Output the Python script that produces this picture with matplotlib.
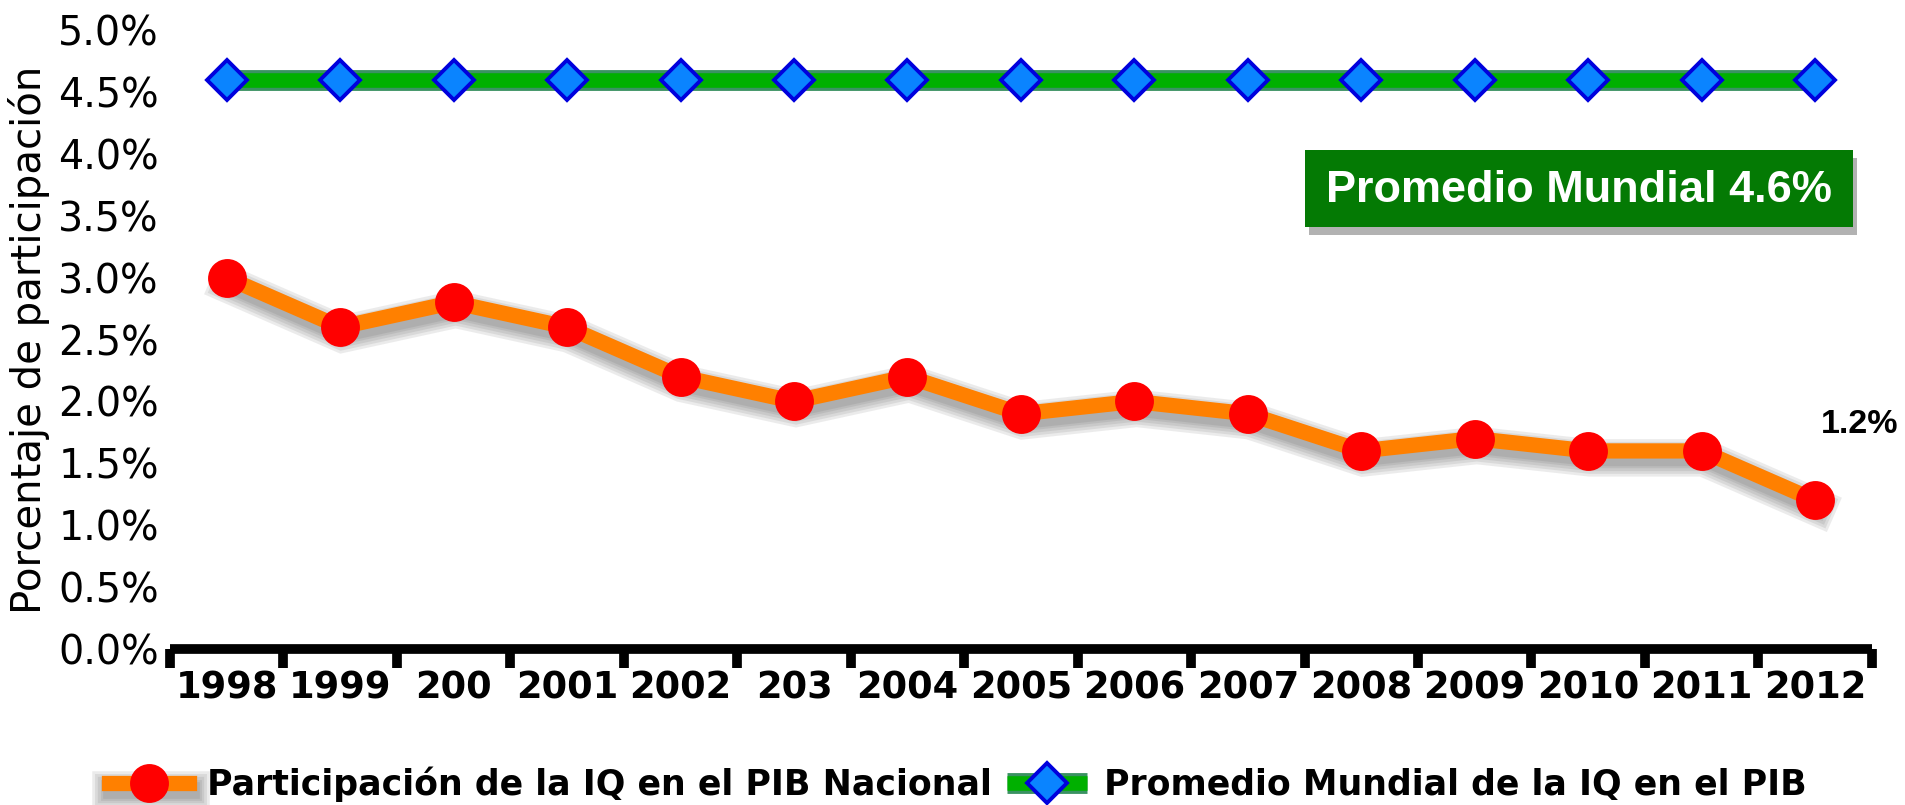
import matplotlib
matplotlib.use("Agg")
import matplotlib.pyplot as plt
import matplotlib.patheffects as pe
from matplotlib.patches import Rectangle
from matplotlib.ticker import FixedLocator, FuncFormatter

years = ["1998", "1999", "200", "2001", "2002", "203", "2004", "2005",
         "2006", "2007", "2008", "2009", "2010", "2011", "2012"]
participacion = [3.0, 2.6, 2.8, 2.6, 2.2, 2.0, 2.2, 1.9, 2.0, 1.9, 1.6, 1.7, 1.6, 1.6, 1.2]
promedio_mundial = [4.6] * 15
yticks = [0.0, 0.5, 1.0, 1.5, 2.0, 2.5, 3.0, 3.5, 4.0, 4.5, 5.0]

label_nac = "Participación de la IQ en el PIB Nacional"
label_mun = "Promedio Mundial de la IQ en el PIB"
box_text = "Promedio Mundial 4.6%"
end_label = "1.2%"

fig = plt.figure(figsize=(19.05, 8.05), dpi=100)
ax = fig.add_axes([0.0892, 0.1938, 0.8934, 0.7689])

x = list(range(len(years)))

# world average line (green with darker halo)
gline, = ax.plot(x, promedio_mundial, color="#00b000", lw=10.5, zorder=3,
                 solid_capstyle="butt",
                 path_effects=[pe.Stroke(linewidth=15, foreground="#3a9262"), pe.Normal()])
gmark, = ax.plot(x, promedio_mundial, ls="none", marker="D", ms=20.5,
                 markerfacecolor="#0a84ff", markeredgecolor="#0000dd", markeredgewidth=2.8,
                 zorder=4)

# national line (orange with soft shadow)
shadow = [pe.SimpleLineShadow(offset=(1.5, -5), shadow_color="#444444", alpha=0.10, linewidth=w)
          for w in (27, 23, 19, 15, 12)] + [pe.Normal()]
oline, = ax.plot(x, participacion, color="#ff8000", lw=11, zorder=3,
                 solid_joinstyle="miter", path_effects=shadow)
omark, = ax.plot(x, participacion, ls="none", marker="o", ms=28,
                 markerfacecolor="#ff0000", markeredgecolor="#ff0000", markeredgewidth=0,
                 zorder=4)

ax.set_xlim(-0.5, len(years) - 0.5)
ax.set_ylim(0, 5.0)

# axes styling
for s in ("top", "right", "left"):
    ax.spines[s].set_visible(False)
ax.spines["bottom"].set_linewidth(7)
ax.spines["bottom"].set_capstyle("butt")

ax.xaxis.set_major_locator(FixedLocator([i - 0.5 for i in range(len(years) + 1)]))
ax.xaxis.set_major_formatter(FuncFormatter(lambda v, p: ""))
ax.set_xticks(x, minor=True)
ax.set_xticklabels(years, minor=True, fontsize=26.5, fontweight="bold")
ax.tick_params(axis="x", which="major", length=14, width=7, direction="out", color="black")
ax.tick_params(axis="x", which="minor", length=0, pad=15)

ax.set_yticks(yticks)
ax.set_yticklabels([f"{v:.1f}%" for v in yticks], fontsize=28.5)
ax.tick_params(axis="y", length=0, pad=8)
ax.set_ylabel("Porcentaje de participación", fontsize=29, labelpad=6)

# green box annotation
rect = Rectangle((0.667, 0.682), 0.322, 0.124, transform=ax.transAxes,
                 facecolor="#047a04", edgecolor="none", zorder=5,
                 path_effects=[pe.SimplePatchShadow(offset=(3, -6), shadow_rgbFace="gray", alpha=0.6),
                               pe.Normal()])
ax.add_patch(rect)
ax.text(0.667 + 0.161, 0.682 + 0.059, box_text, transform=ax.transAxes,
        ha="center", va="center", color="white", fontsize=32.5, fontweight="bold",
        family="Liberation Sans", zorder=6)

# end value label
ax.annotate(end_label, xy=(x[-1], participacion[-1]), xytext=(32, 55),
            textcoords="offset points", ha="center", va="center",
            fontsize=24.5, fontweight="bold", family="Liberation Sans")

leg = fig.legend([(oline, omark), (gline, gmark)], [label_nac, label_mun],
                 loc="center", bbox_to_anchor=(0.503, 0.026), ncol=2, frameon=False,
                 prop={"weight": "bold", "size": 25}, handlelength=2.3,
                 handletextpad=0.5, columnspacing=0.45)

fig.savefig("out.png", dpi=100)
